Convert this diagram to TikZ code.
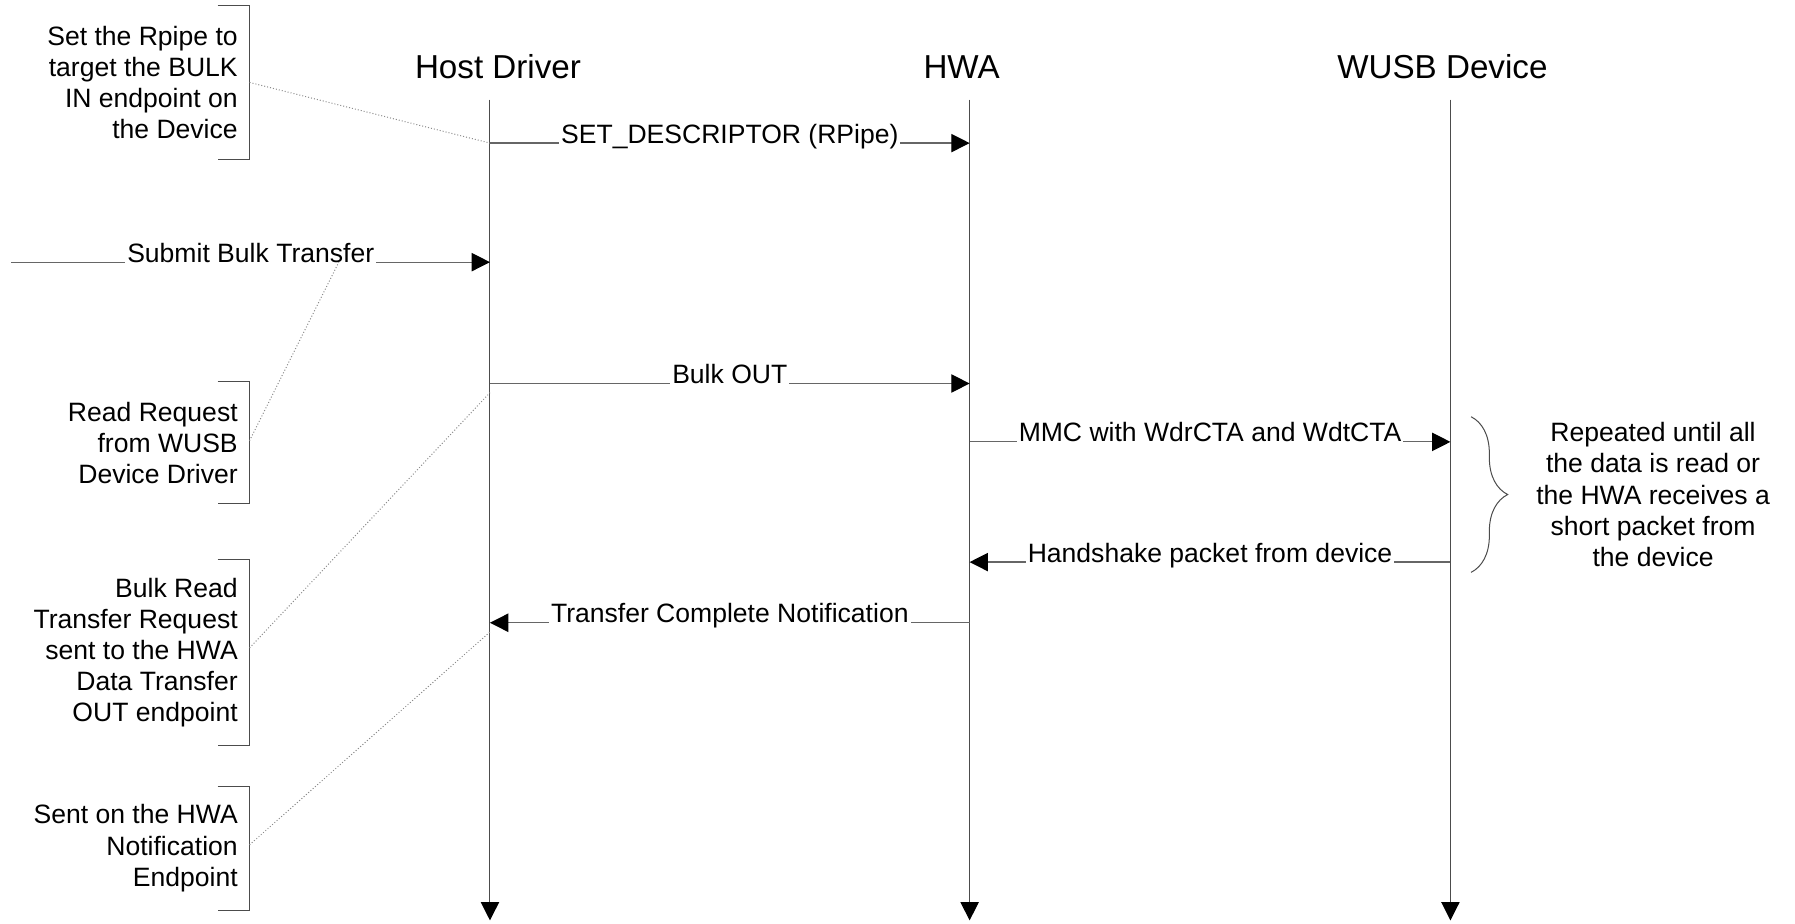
\documentclass[tikz,border=0pt]{standalone}
\usepackage{fontspec}
\setmainfont{Liberation Sans}
\usetikzlibrary{arrows.meta, calc, decorations.pathreplacing}
\tikzset{
  lifetitle/.style={font=\fontsize{16.5}{19}\selectfont, anchor=base, inner sep=0pt},
  lifeline/.style={draw=black!70, line width=0.5pt, -{Triangle[length=0.32cm, width=0.32cm, color=black]}},
  msg/.style={draw=black!60, line width=0.6pt, -{Triangle[length=0.32cm, width=0.32cm, color=black]}},
  msglbl/.style={font=\fontsize{13.2}{15.5}\selectfont, fill=white, inner xsep=1pt, inner ysep=1pt, anchor=base},
  notetext/.style={font=\fontsize{13.2}{15.5}\selectfont, align=right, anchor=east, inner sep=0pt},
  bracketline/.style={draw=black!70, line width=0.5pt},
  noteline/.style={draw=black!45, densely dotted, line width=0.5pt},
}

\begin{document}
\begin{tikzpicture}[x=0.02cm, y=-0.02cm]
  \useasboundingbox (0,0) rectangle (1568,807);

  % === lifelines ===
  \node[lifetitle] (host) at (435,69) {Host Driver};
  \node[lifetitle] (hwa) at (840,69) {HWA};
  \node[lifetitle] (wusb) at (1260,69) {WUSB Device};
  \coordinate (hostTop) at (428,87);  \coordinate (hostEnd) at (428,804);
  \coordinate (hwaTop) at (847,87);   \coordinate (hwaEnd) at (847,804);
  \coordinate (wusbTop) at (1267,87); \coordinate (wusbEnd) at (1267,804);
  \draw[lifeline] (hostTop) -- (hostEnd);
  \draw[lifeline] (hwaTop) -- (hwaEnd);
  \draw[lifeline] (wusbTop) -- (wusbEnd);

  % === messages ===
  \coordinate (hostSet) at (428,125);  \coordinate (hwaSet) at (847,125);
  \coordinate (submitIn) at (10,229);  \coordinate (hostSubmit) at (428,229);
  \coordinate (hostOut) at (428,335);  \coordinate (hwaOut) at (847,335);
  \coordinate (hwaMmc) at (847,386);   \coordinate (wusbMmc) at (1267,386);
  \coordinate (wusbHs) at (1267,491);  \coordinate (hwaHs) at (847,491);
  \coordinate (hwaDone) at (847,544);  \coordinate (hostDone) at (428,544);

  \draw[msg] (hostSet) -- node[msglbl] {SET\_DESCRIPTOR (RPipe)} (hwaSet);
  \draw[msg] (submitIn) -- node[msglbl] {Submit Bulk Transfer} (hostSubmit);
  \draw[msg] (hostOut) -- node[msglbl] {Bulk OUT} (hwaOut);
  \draw[msg] (hwaMmc) -- node[msglbl] {MMC with WdrCTA and WdtCTA} (wusbMmc);
  \draw[msg] (wusbHs) -- node[msglbl] {Handshake packet from device} (hwaHs);
  \draw[msg] (hwaDone) -- node[msglbl] {Transfer Complete Notification} (hostDone);

  % === notes on the left ===
  \node[notetext] (noteSet) at (208,72) {Set the Rpipe to\\target the BULK\\IN endpoint on\\the Device};
  \draw[bracketline] (190,5) -- (218,5) -- (218,139) -- (190,139);
  \node[notetext] (noteRead) at (208,387) {Read Request\\from WUSB\\Device Driver};
  \draw[bracketline] (190,333) -- (218,333) -- (218,440) -- (190,440);
  \node[notetext] (noteBulk) at (208,570) {Bulk Read\\Transfer Request\\sent to the HWA\\Data Transfer\\OUT endpoint};
  \draw[bracketline] (190,489) -- (218,489) -- (218,651) -- (190,651);
  \node[notetext] (noteSent) at (208,741) {Sent on the HWA\\Notification\\Endpoint};
  \draw[bracketline] (190,687) -- (218,687) -- (218,795) -- (190,795);

  \coordinate (noteSetTip) at (218,72);
  \coordinate (noteReadTip) at (218,385);
  \coordinate (noteBulkTip) at (218,566);
  \coordinate (noteSentTip) at (218,738);
  \coordinate (submitPt) at (296,229);
  \coordinate (hostBulk) at (428,343);
  \coordinate (hostNote) at (428,552);
  \draw[noteline] (noteSetTip) -- (hostSet);
  \draw[noteline] (noteReadTip) -- (submitPt);
  \draw[noteline] (noteBulkTip) -- (hostBulk);
  \draw[noteline] (noteSentTip) -- (hostNote);

  % === repeat note ===
  \draw[bracketline, decorate, decoration={brace, amplitude=0.64cm}] (1285,364) -- (1285,500);
  \node[notetext, align=center, anchor=center] (repeatNote) at (1444,432) {Repeated until all\\the data is read or\\the HWA receives a\\short packet from\\the device};
\end{tikzpicture}
\end{document}
